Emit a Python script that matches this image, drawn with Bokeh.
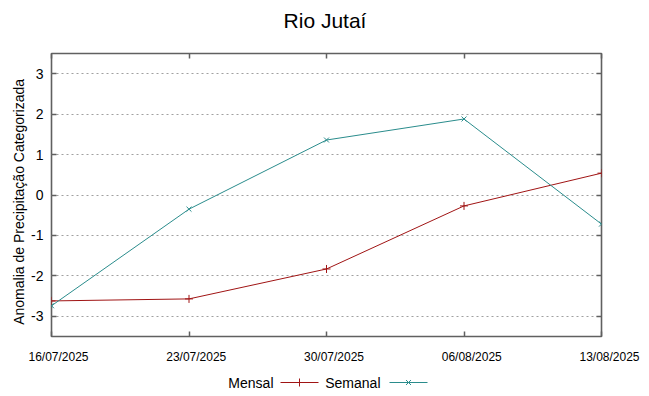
import math
import pandas as pd
from bokeh.plotting import figure
from bokeh.layouts import column, row
from bokeh.models import FixedTicker, LinearAxis, Range1d, Label
from bokeh.embed import file_html
from bokeh.resources import INLINE

dates = ["16/07/2025", "23/07/2025", "30/07/2025", "06/08/2025", "13/08/2025"]
mensal = [-2.62, -2.57, -1.83, -0.27, 0.54]
semanal = [-2.74, -0.35, 1.36, 1.88, -0.72]
y_ticks = [-3, -2, -1, 0, 1, 2, 3]
series_names = ["Mensal", "Semanal"]
title_text = "Rio Jutaí"
y_title = "Anomalia de Precipitação Categorizada"

FONT = "Liberation Sans"
RED = "#a01414"
TEAL = "#2a8c8c"
AX = "#606060"

xd = pd.to_datetime(dates, format="%d/%m/%Y")
xms = [float(t.value // 10**6) for t in xd]

W = 641
PAGE_H = 396
FRAME_L, FRAME_R, FRAME_T, FRAME_B = 50, 601, 53, 336
TOP_H, YLAB_W = 40, 28
MAIN_END = FRAME_B + 13
MAIN_H = MAIN_END - TOP_H
BOT_H = PAGE_H - MAIN_END


def strip(width, height, x_range=None):
    f = figure(width=width, height=height,
               x_range=x_range if x_range is not None else Range1d(0, width),
               y_range=Range1d(0, height),
               x_axis_type=None, y_axis_type=None, toolbar_location=None, output_backend="svg",
               min_border=0, min_border_left=0, min_border_right=0, min_border_top=0,
               min_border_bottom=0)
    f.outline_line_color = None
    f.xgrid.grid_line_color = None
    f.ygrid.grid_line_color = None
    f.background_fill_color = "white"
    f.border_fill_color = "white"
    return f


# ---- title strip
top = strip(W, TOP_H)
top.add_layout(Label(x=324.5, y=TOP_H - 19.5, text=title_text, text_align="center",
                     text_baseline="middle", text_font=FONT, text_font_size="21px",
                     text_color="black"))

# ---- y title strip
ylab = strip(YLAB_W, MAIN_H)
ylab.add_layout(Label(x=18.5, y=MAIN_END - 202, text=y_title, angle=math.pi / 2,
                      text_align="center", text_baseline="middle", text_font=FONT,
                      text_font_size="14px", text_color="black"))

# ---- main plot
p = figure(width=W - YLAB_W, height=MAIN_H, x_axis_type="datetime", output_backend="svg",
           toolbar_location=None,
           x_range=Range1d(xms[0], xms[-1]), y_range=Range1d(-3.5, 3.5),
           min_border_left=FRAME_L - YLAB_W, min_border_right=W - FRAME_R,
           min_border_top=FRAME_T - TOP_H, min_border_bottom=MAIN_END - FRAME_B)

p.outline_line_color = AX
p.outline_line_width = 1.6
p.background_fill_color = "white"
p.border_fill_color = "white"

p.xgrid.grid_line_color = None
p.ygrid.ticker = FixedTicker(ticks=y_ticks)
p.ygrid.grid_line_color = "#a0a0a0"
p.ygrid.grid_line_dash = "2 3"
p.ygrid.grid_line_width = 1

xa = p.xaxis[0]
xa.ticker = FixedTicker(ticks=xms)
xa.axis_line_color = None
xa.major_tick_in = 5
xa.major_tick_out = 0
xa.major_tick_line_color = AX
xa.major_tick_line_width = 1.5
xa.minor_tick_line_color = None
xa.major_label_text_font_size = "8px"
xa.major_label_text_alpha = 0
xa.major_label_standoff = 0

ya = p.yaxis[0]
ya.ticker = FixedTicker(ticks=y_ticks)
ya.major_label_overrides = {t: str(t) for t in y_ticks}
ya.axis_line_color = None
ya.major_tick_in = 5
ya.major_tick_out = 0
ya.major_tick_line_color = AX
ya.major_tick_line_width = 1.5
ya.minor_tick_line_color = None
ya.major_label_text_font = FONT
ya.major_label_text_font_size = "14px"
ya.major_label_text_color = "black"
ya.major_label_standoff = 8

ra = LinearAxis(ticker=FixedTicker(ticks=y_ticks), axis_line_color=None,
                major_tick_in=5, major_tick_out=0, major_tick_line_color=AX,
                major_tick_line_width=1.5,
                minor_tick_line_color=None, major_label_standoff=0,
                major_label_text_font_size="8px", major_label_text_alpha=0)
p.add_layout(ra, "right")
ta = LinearAxis(ticker=FixedTicker(ticks=xms), axis_line_color=None,
                major_tick_in=5, major_tick_out=0, major_tick_line_color=AX,
                major_tick_line_width=1.5,
                minor_tick_line_color=None, major_label_standoff=0,
                major_label_text_font_size="8px", major_label_text_alpha=0)
p.add_layout(ta, "above")

p.line(xd, mensal, line_color=RED, line_width=1)
p.scatter(xd, mensal, marker="cross", size=8, line_color=RED, line_width=1)
p.line(xd, semanal, line_color=TEAL, line_width=1)
p.scatter(xd, semanal, marker="x", size=7, line_color=TEAL, line_width=1)

# ---- bottom strip: date labels (same time scale as the plot) and legend
k = (xms[-1] - xms[0]) / (FRAME_R - FRAME_L)
x0 = xms[0] - FRAME_L * k
bot = strip(W, BOT_H, x_range=Range1d(x0, x0 + W * k))
for xv, txt in zip(xms, dates):
    bot.add_layout(Label(x=xv + 8 * k, y=PAGE_H - 356, text=txt, text_align="center",
                         text_baseline="middle", text_font=FONT, text_font_size="12px",
                         text_color="black"))

styles = [(RED, "cross", 8), (TEAL, "x", 7)]
mid = PAGE_H - 382
for (color, marker, size), gx, tx, name in zip(styles, [280, 389], [273, 380], series_names):
    xa_px = x0 + gx * k
    xb_px = x0 + (gx + 38) * k
    bot.line([xa_px, xb_px], [mid, mid], line_color=color, line_width=1)
    bot.scatter([(xa_px + xb_px) / 2], [mid], marker=marker, size=size,
                line_color=color, line_width=1)
    bot.add_layout(Label(x=x0 + tx * k, y=mid, text=name, text_align="right",
                         text_baseline="middle", text_font=FONT,
                         text_font_size="14px", text_color="black"))

layout = column(top, row(ylab, p, spacing=0), bot, spacing=0)
open("out.html", "w").write(file_html(layout, INLINE))
